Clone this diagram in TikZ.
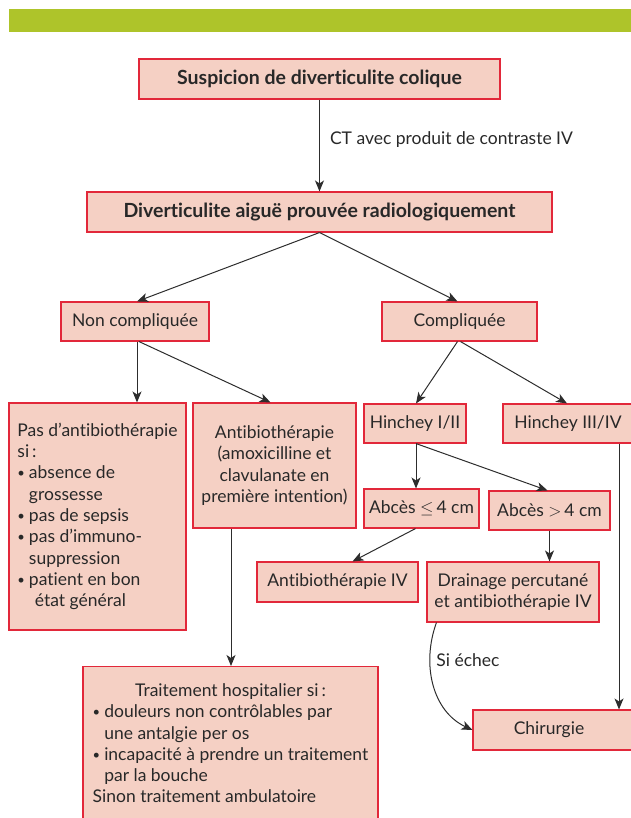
\documentclass[tikz,border=0pt]{standalone}
\usepackage{fontspec}
\setmainfont{Lato}[Ligatures=NoCommon]
\usetikzlibrary{arrows.meta,calc}
\definecolor{boxfill}{RGB}{245,208,196}
\definecolor{boxred}{RGB}{226,40,58}
\definecolor{barGreen}{RGB}{174,196,42}
\definecolor{textcol}{RGB}{40,40,40}
\definecolor{linecol}{RGB}{45,45,45}
\newcommand\bulmark{{\fontsize{13}{13}\selectfont\raisebox{1pt}{•}}\hspace{4pt}}
\newcommand\bulgap{\hphantom{\bulmark}}
\begin{document}
\begin{tikzpicture}[x=1pt,y=-1pt,
  box/.style={draw=boxred, fill=boxfill, line width=1.1pt, inner sep=0pt,
    text=textcol, font=\fontsize{17.5}{21.3}\selectfont},
  boldbox/.style={box, font=\fontsize{19.5}{21.3}\selectfont\bfseries},
  conn/.style={draw=linecol, line width=1pt,
    -{Stealth[length=11pt,width=9pt,inset=3pt]}},
  lbl/.style={text=textcol, font=\fontsize{17.5}{21.3}\selectfont, inner sep=0pt, anchor=west}
]
\useasboundingbox (0,0) rectangle (630,818);
\fill[barGreen] (9,9) rectangle (640,32);

\node[boldbox, minimum width=361pt, minimum height=40pt] (s1) at (319.5,79) {Suspicion de diverticulite colique};
\node[boldbox, minimum width=465pt, minimum height=40pt] (s2) at (319.5,212) {Diverticulite aiguë prouvée radiologiquement};
\node[box, minimum width=148pt, minimum height=39pt] (nc) at (135,321.5) {Non compliquée};
\node[box, minimum width=155pt, minimum height=39pt] (cp) at (459.5,321.5) {Compliquée};
\node[box, minimum width=177pt, minimum height=227pt, align=left] (pas) at (97.5,516.5)
  {Pas d’antibiothérapie\\si\,:\\\bulmark absence de\\\bulgap grossesse\\\bulmark pas de sepsis\\\bulmark pas d’immuno-\\\bulgap suppression\\\bulmark patient en bon\\\bulgap\,\,état général};
\node[box, minimum width=163pt, minimum height=125pt, align=center] (ab) at (274.5,465.5)
  {Antibiothérapie\\(amoxicilline et\\clavulanate en\\première intention)};
\node[box, minimum width=102pt, minimum height=39pt] (h12) at (415,423.5) {Hinchey I/II};
\node[box, minimum width=142pt, minimum height=39pt] (h34) at (574,423.5) {\hspace*{-12pt}Hinchey III/IV};
\node[box, minimum width=115pt, minimum height=39pt] (a4) at (421.5,508.5) {Abcès $\leq$\,4 cm};
\node[box, minimum width=121pt, minimum height=39pt] (a4g) at (549.5,510.5) {Abcès $>$\,4 cm};
\node[box, minimum width=161pt, minimum height=40pt] (abiv) at (337.5,582) {Antibiothérapie IV};
\node[box, minimum width=172pt, minimum height=60pt, align=center] (dr) at (513,592)
  {Drainage percutané\\et antibiothérapie IV};
\node[box, minimum width=172pt, minimum height=40pt] (chir) at (559,730) {\hspace*{-20pt}Chirurgie};
\node[box, minimum width=295pt, inner ysep=15pt, anchor=north] (tr) at (230.5,666)
  {\begin{tabular}{@{}l@{}}
   \multicolumn{1}{@{}c@{}}{Traitement hospitalier si\,:}\\
   \bulmark douleurs non contrôlables par\\
   \bulgap une antalgie per os\\
   \bulmark incapacité à prendre un traitement\\
   \bulgap par la bouche\\
   Sinon traitement ambulatoire
   \end{tabular}};

\draw[conn] (s1.south) -- node[lbl, pos=0.44, xshift=10pt] {CT avec produit de contraste IV} (s2.north);
\draw[conn] (s2.south) -- ([xshift=2pt]nc.north);
\draw[conn] (s2.south) -- ([xshift=-2pt]cp.north);
\draw[conn] ([xshift=2pt]nc.south) -- ([xshift=2pt]nc.south |- pas.north);
\draw[conn] ([xshift=4pt]nc.south) -- ([xshift=-4pt]ab.north);
\draw[conn] ([xshift=-2pt]cp.south) -- ([xshift=1pt]h12.north);
\draw[conn] ([xshift=1pt]cp.south) -- ([xshift=-7pt]h34.north);
\draw[conn] ([xshift=1pt]h12.south) -- ([xshift=1pt]h12.south |- a4.north);
\draw[conn] ([xshift=1pt]h12.south) -- ([xshift=-2pt]a4g.north);
\draw[conn] ([xshift=-6pt]a4.south) -- ([xshift=15pt]abiv.north);
\draw[conn] (a4g.south) -- (a4g.south |- dr.north);
\draw[conn] ([xshift=45pt]h34.south) -- ([xshift=45pt]h34.south |- chir.north);
\draw[conn] ([xshift=10pt]dr.south west) to[out=-110,in=155]
  node[lbl, pos=0.3, xshift=6pt] {Si échec} (chir.west);
\draw[conn] ([xshift=-43.5pt]ab.south) -- ([xshift=-43.5pt]ab.south |- tr.north);
\end{tikzpicture}
\end{document}
